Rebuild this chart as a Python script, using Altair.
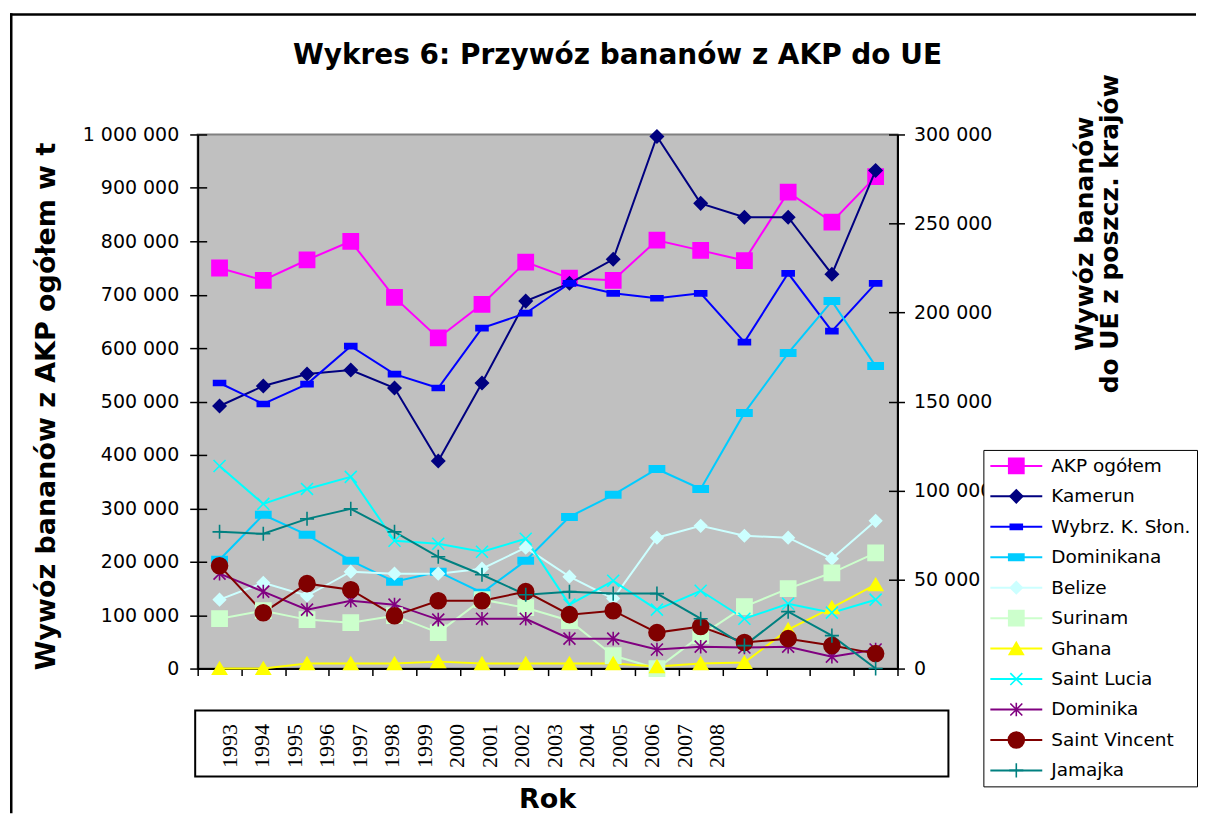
import altair as alt
import pandas as pd

years = [str(y) for y in range(1993, 2009)]
names = ["AKP ogółem", "Kamerun", "Wybrz. K. Słon.", "Dominikana", "Belize", "Surinam",
         "Ghana", "Saint Lucia", "Dominika", "Saint Vincent", "Jamajka"]

akp = [750000, 727000, 765000, 800000, 695000, 619000, 682000, 761000,
       731000, 727000, 802000, 783000, 764000, 892000, 836000, 921000]
kamerun = [147500, 158700, 165400, 167700, 157600, 116600, 160400, 206400,
           216400, 229900, 298900, 261300, 253500, 253500, 221500, 279800]
wybrzeze = [160400, 148600, 159800, 181100, 165400, 157600, 191200, 199600,
            216400, 210800, 208000, 210800, 183400, 222000, 189500, 216400]
dominikana = [61100, 86400, 75100, 60600, 48800, 54400, 42600, 60600,
              85200, 97600, 112100, 100900, 143600, 177200, 206400, 169900]
belize = [38700, 48200, 40900, 54400, 53300, 53300, 56100, 67900,
          51600, 39300, 73500, 80200, 74600, 73500, 61700, 83000]
surinam = [28000, 32500, 27500, 25800, 29700, 20200, 38700, 34200,
           26900, 7300, 0, 18500, 34800, 44900, 53800, 65000]
ghana = [0, 0, 2800, 2800, 2800, 3900, 2800, 2800,
         2800, 2800, 1100, 2800, 3400, 21900, 34200, 47100]
saint_lucia = [113800, 92500, 100900, 107700, 71800, 70100, 65600, 72900,
               35900, 49300, 33100, 43700, 28000, 36400, 31400, 38700]
dominika = [53300, 43200, 33100, 38100, 35900, 27500, 28000, 28000,
            16800, 16800, 10700, 12300, 11800, 12300, 6700, 10700]
saint_vincent = [57800, 31400, 47700, 44300, 29700, 38100, 38100, 43200,
                 30300, 32500, 20200, 23600, 14600, 16800, 12900, 8400]
jamajka = [76800, 75700, 84100, 89700, 76800, 62800, 52700, 41500,
           43200, 42100, 42100, 28000, 12900, 32000, 18500, 0]

series_values = [akp, kamerun, wybrzeze, dominikana, belize, surinam,
                 ghana, saint_lucia, dominika, saint_vincent, jamajka]

line_colors = ["#FF00FF", "#000080", "#0000FF", "#00CCFF", "#CCFFFF", "#CCFFCC",
               "#FFFF00", "#00FFFF", "#800080", "#800000", "#008080"]

# marker shapes (marker size 256 -> 1 unit = 8 px)
SQUARE = "M-0.95,-0.95H0.95V0.95H-0.95Z"
DIAMOND = "M-0.8,0L0,-0.8L0.8,0L0,0.8Z"
DIAMOND_S = "M-0.75,0L0,-0.75L0.75,0L0,0.75Z"
RECT_S = "M-0.75,-0.32H0.75V0.32H-0.75Z"
RECT_L = "M-0.95,-0.4H0.95V0.4H-0.95Z"
TRIANGLE = "M0,-0.78L0.88,0.72L-0.88,0.72Z"
XMARK = "M-0.75,-0.75L0.75,0.75M-0.75,0.75L0.75,-0.75"
ASTER = "M-0.75,-0.75L0.75,0.75M-0.75,0.75L0.75,-0.75M0,-0.85L0,0.85"
PLUS = "M-0.88,0H0.88M0,-0.88V0.88"
marker_shapes = [SQUARE, DIAMOND, RECT_S, RECT_L, DIAMOND_S, SQUARE,
                 TRIANGLE, XMARK, ASTER, "circle", PLUS]

left_ticks = list(range(0, 1000001, 100000))
right_ticks = list(range(0, 300001, 50000))

names_m = [n + " " for n in names]

rows = []
for name, name_m, vals in zip(names, names_m, series_values):
    for yr, v in zip(years, vals):
        rows.append({"Rok": yr, "Seria": name, "SeriaM": name_m, "Wartosc": v})
df = pd.DataFrame(rows)
df_left = df[df["Seria"] == names[0]]
df_right = df[df["Seria"] != names[0]]

FONT = "DejaVu Sans"
label_expr = "replace(format(datum.value, ','), regexp(',', 'g'), ' ')"

x_axis = alt.Axis(orient="bottom", labels=False, tickBand="extent", tickSize=7,
                  tickColor="black", tickWidth=1.5, domainColor="black", domainWidth=2,
                  grid=False, title="Rok", titleFont=FONT, titleFontSize=27,
                  titleFontWeight="bold", titleColor="black", titleBaseline="alphabetic",
                  titleY=139, titleX=350, titleAlign="center")

left_axis = alt.Axis(orient="left", values=left_ticks, labelExpr=label_expr,
                     labelFont=FONT, labelFontSize=19, labelColor="black", labelPadding=11,
                     labelOverlap=False, tickSize=8, tickColor="black", tickWidth=1.5,
                     domainColor="black", domainWidth=2, grid=False,
                     title="Wywóz bananów z AKP ogółem w t", titleFont=FONT,
                     titleFontSize=27, titleFontWeight="bold", titleColor="black",
                     titleAngle=270, titleX=-151, titleY=272, titleAlign="center",
                     titleBaseline="middle")
# inner halves of the crossing tick marks
left_inner = alt.Axis(orient="left", values=left_ticks, offset=-9, labels=False,
                      domain=False, tickSize=9, tickColor="black", tickWidth=1.5,
                      grid=False, title=None)

right_axis = alt.Axis(orient="right", values=right_ticks, labelExpr=label_expr,
                      labelFont=FONT, labelFontSize=19, labelColor="black", labelPadding=9,
                      labelOverlap=False, tickSize=7, tickColor="black", tickWidth=1.5,
                      domainColor="black", domainWidth=2, grid=False,
                      title=["Wywóz bananów", "do UE z poszcz. krajów"], titleFont=FONT,
                      titleFontSize=25, titleFontWeight="bold", titleColor="black",
                      titleAngle=270, titleX=187, titleY=99, titleAlign="center",
                      titleBaseline="middle", titleLineHeight=25)
right_inner = alt.Axis(orient="right", values=right_ticks, offset=-9, labels=False,
                       domain=False, tickSize=9, tickColor="black", tickWidth=1.5,
                       grid=False, title=None)

LEG_X, LEG_Y = 787, 316
line_legend = alt.Legend(title=None, orient="none", legendX=LEG_X, legendY=LEG_Y,
                         direction="vertical", symbolType="stroke", symbolSize=2704,
                         symbolStrokeWidth=2, labelFont=FONT, labelFontSize=18.5,
                         labelColor="black", labelOffset=8, labelLimit=400,
                         clipHeight=20, rowPadding=10.5, padding=6,
                         fillColor="white", strokeColor="black", zindex=1)
point_legend = alt.Legend(title=None, orient="none", legendX=LEG_X, legendY=LEG_Y,
                          direction="vertical", symbolSize=256, symbolStrokeWidth=1.6,
                          symbolOffset=17.75, labelFont=FONT, labelFontSize=18.5,
                          labelOpacity=0, labelLimit=400, clipHeight=20,
                          rowPadding=10.5, padding=6, zindex=2)

x_enc = alt.X("Rok:O", sort=years,
              scale=alt.Scale(type="band", paddingInner=0, paddingOuter=0),
              bandPosition=0.5, axis=x_axis)
color_enc = alt.Color("Seria:N", scale=alt.Scale(domain=names, range=line_colors),
                      legend=line_legend)
shape_enc = alt.Shape("SeriaM:N", scale=alt.Scale(domain=names_m, range=marker_shapes),
                      legend=point_legend)
fill_enc = alt.Fill("SeriaM:N", scale=alt.Scale(domain=names_m, range=line_colors),
                    legend=point_legend)
stroke_enc = alt.Stroke("SeriaM:N", scale=alt.Scale(domain=names_m, range=line_colors),
                        legend=point_legend)

left_scale = alt.Scale(domain=[0, 1000000], nice=False)
right_scale = alt.Scale(domain=[0, 300000], nice=False)

def series_layer(data, scale, outer_axis, inner_axis):
    lines = alt.Chart(data).mark_line(strokeWidth=2).encode(
        x=x_enc, y=alt.Y("Wartosc:Q", scale=scale, axis=outer_axis),
        color=color_enc, detail="Seria:N")
    pts = alt.Chart(data).mark_point(filled=True, size=256, strokeWidth=1.6, opacity=1).encode(
        x=x_enc, y=alt.Y("Wartosc:Q", scale=scale, axis=inner_axis),
        shape=shape_enc, fill=fill_enc, stroke=stroke_enc)
    return alt.layer(lines, pts).resolve_axis(y="independent")

main = alt.layer(series_layer(df_left, left_scale, left_axis, left_inner),
                 series_layer(df_right, right_scale, right_axis, right_inner)
                 ).resolve_scale(y="independent")

year_axis = alt.Axis(orient="bottom", offset=55, domain=False, ticks=False, labelAngle=270,
                     labelAlign="right", labelBaseline="middle", labelPadding=0,
                     labelFont="Liberation Serif", labelFontSize=22, labelColor="black",
                     labelOverlap=False, grid=False, title=None)
year_labels = alt.Chart(pd.DataFrame({"Rok": years})).mark_point(opacity=0).encode(
    x=alt.X("Rok:O", sort=years,
            scale=alt.Scale(type="point", range=[31.5, 519.7], padding=0),
            axis=year_axis),
    y=alt.value(0))

deco = pd.DataFrame({"d": [0]})
label_box = alt.Chart(deco).mark_rect(fillOpacity=0, stroke="black", strokeWidth=2).encode(
    x=alt.value(-2.5), x2=alt.value(752), y=alt.value(577), y2=alt.value(643))
border_left = alt.Chart(deco).mark_rule(stroke="black", strokeWidth=2.5).encode(
    x=alt.value(-186.75), y=alt.value(-121.5), y2=alt.value(680))
border_top = alt.Chart(deco).mark_rule(stroke="black", strokeWidth=2.5).encode(
    y=alt.value(-120.25), x=alt.value(-188), x2=alt.value(1000))

chart = alt.layer(main, year_labels, label_box, border_left, border_top).resolve_scale(
    x="independent", y="independent"
).properties(
    width=701, height=535,
    padding={"left": 0, "top": 3, "right": 0, "bottom": 0},
    title=alt.TitleParams("Wykres 6: Przywóz bananów z AKP do UE", font=FONT, fontSize=28,
                          fontWeight="bold", color="black", anchor="middle", frame="group",
                          dx=70, dy=80.5, offset=0, baseline="alphabetic"),
).configure_view(fill="#C0C0C0", stroke="#808080", strokeWidth=2)

chart.save("out.html", embed_options={"renderer": "svg", "actions": False})
